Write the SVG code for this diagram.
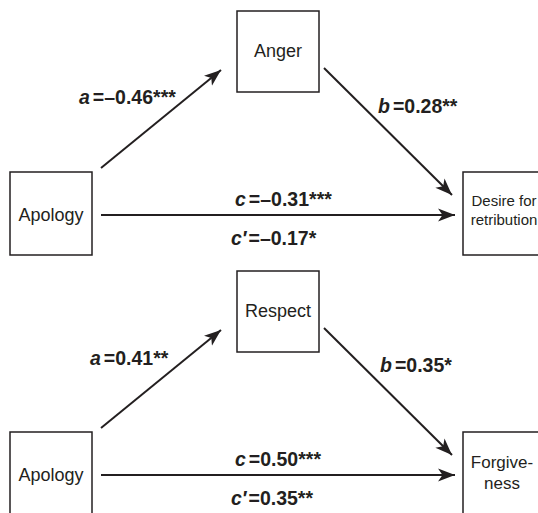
<svg xmlns="http://www.w3.org/2000/svg" width="538" height="513" viewBox="0 0 538 513">
<defs>
<marker id="arr" markerUnits="userSpaceOnUse" markerWidth="18" markerHeight="14" viewBox="0 0 18 14" refX="17" refY="7" orient="auto">
<path d="M0,0.5 L17,7 L0,13.5 L4.5,7 z" fill="#231f20"/>
</marker>
<style>
.box{fill:#fff;stroke:#231f20;stroke-width:1.5}
.nt{font-family:"Liberation Sans",Arial,sans-serif;font-size:18px;fill:#231f20;text-anchor:middle}
.st{font-family:"Liberation Sans",Arial,sans-serif;font-size:15px;fill:#231f20;text-anchor:middle}
.ft{font-family:"Liberation Sans",Arial,sans-serif;font-size:17px;fill:#231f20;text-anchor:middle}
.lb{font-family:"Liberation Sans",Arial,sans-serif;font-size:19.5px;font-weight:bold;fill:#231f20}
.it{font-style:italic}
.ln{stroke:#231f20;stroke-width:2;fill:none;marker-end:url(#arr)}
</style>
</defs>
<rect width="538" height="513" fill="#fff"/>
<g id="connectors">
<line class="ln" x1="101" y1="168" x2="221" y2="70"/>
<line class="ln" x1="324" y1="68" x2="452" y2="195"/>
<line class="ln" x1="101" y1="215" x2="455" y2="215"/>
<line class="ln" x1="101" y1="428" x2="221" y2="330"/>
<line class="ln" x1="324" y1="328" x2="452" y2="455"/>
<line class="ln" x1="101" y1="475" x2="455" y2="475"/>
</g>
<g id="labels">
<text class="lb" x="79" y="104"><tspan class="it">a</tspan><tspan dx="3">=–0.46***</tspan></text>
<text class="lb" x="378" y="113"><tspan class="it">b</tspan><tspan dx="3">=0.28**</tspan></text>
<text class="lb" x="235" y="206"><tspan class="it">c</tspan><tspan dx="3">=–0.31***</tspan></text>
<text class="lb" x="231" y="245"><tspan class="it">c′</tspan><tspan dx="2">=–0.17*</tspan></text>
<text class="lb" x="90" y="365"><tspan class="it">a</tspan><tspan dx="3">=0.41**</tspan></text>
<text class="lb" x="380" y="372"><tspan class="it">b</tspan><tspan dx="3">=0.35*</tspan></text>
<text class="lb" x="235" y="466"><tspan class="it">c</tspan><tspan dx="3">=0.50***</tspan></text>
<text class="lb" x="231" y="505"><tspan class="it">c′</tspan><tspan dx="2">=0.35**</tspan></text>
</g>
<g id="anger">
<rect class="box" x="237" y="11" width="82" height="81"/>
<text class="nt" x="278" y="57">Anger</text>
</g>
<g id="apology1">
<rect class="box" x="10" y="172" width="82" height="83"/>
<text class="nt" x="51" y="221">Apology</text>
</g>
<g id="desire">
<rect class="box" x="463" y="172" width="82" height="83"/>
<text class="st" x="504" y="206">Desire for</text>
<text class="st" x="504" y="225">retribution</text>
</g>
<g id="respect">
<rect class="box" x="237" y="271" width="82" height="81"/>
<text class="nt" x="278" y="317">Respect</text>
</g>
<g id="apology2">
<rect class="box" x="10" y="432" width="82" height="85"/>
<text class="nt" x="51" y="481">Apology</text>
</g>
<g id="forgiveness">
<rect class="box" x="463" y="432" width="82" height="85"/>
<text class="ft" x="502" y="468">Forgive-</text>
<text class="ft" x="502" y="489">ness</text>
</g>
</svg>
